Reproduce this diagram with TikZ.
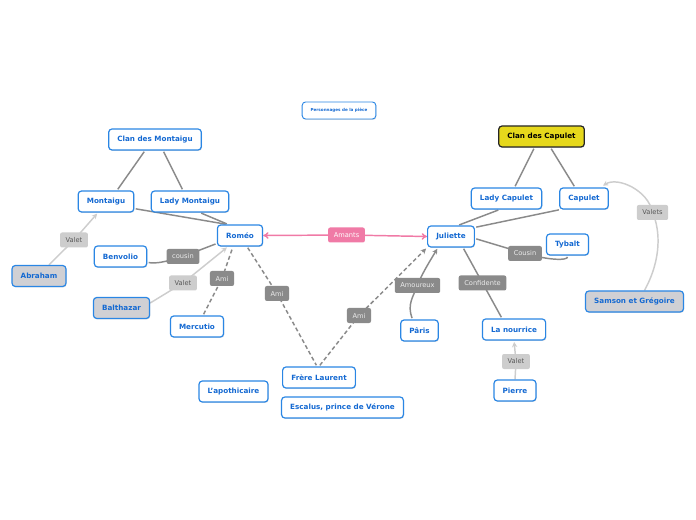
\documentclass[tikz,border=0pt]{standalone}
\usepackage{fontspec}
\setmainfont{DejaVu Sans}
\usetikzlibrary{arrows.meta,calc,backgrounds,shadows}

\definecolor{bleubord}{HTML}{2A86E4}
\definecolor{bleutexte}{HTML}{1469D2}
\definecolor{grisfond}{HTML}{D0D0D4}
\definecolor{jaune}{HTML}{E6D81C}
\definecolor{grislien}{HTML}{8A8A8A}
\definecolor{grisclair}{HTML}{CDCDCD}
\definecolor{rose}{HTML}{F07AA6}

\tikzset{
  perso/.style={draw=bleubord, line width=0.9pt, fill=white, rounded corners=2.5pt,
    text=bleutexte, font=\fontsize{5.4}{6}\selectfont\bfseries,
    minimum height=15.75pt, inner xsep=6.5pt,
    drop shadow={shadow xshift=0.5pt, shadow yshift=-0.7pt, opacity=0.25}},
  serviteur/.style={perso, fill=grisfond},
  clan/.style={perso, fill=jaune, draw=black!85, text=black},
  titre/.style={perso, font=\fontsize{3.1}{4}\selectfont\bfseries,
    minimum height=12.75pt, inner xsep=6.3pt, line width=0.7pt},
  etiq/.style={fill=grislien, text=white!92!black, rounded corners=1.5pt,
    font=\fontsize{5}{6}\selectfont, minimum height=11.25pt, inner xsep=4.2pt},
  etiqclaire/.style={etiq, fill=grisclair, text=black!65},
  etiqrose/.style={etiq, fill=rose, text=white},
  lien/.style={draw=grislien, line width=1.1pt, shorten <=1pt, shorten >=1pt},
  ami/.style={lien, dash pattern=on 3pt off 2pt},
  valet/.style={draw=grisclair, line width=1.1pt, shorten >=1pt,
    -{Stealth[length=4pt,width=4pt]}},
  amants/.style={draw=rose, line width=1.1pt,
    {To[length=4pt,width=5pt]}-{To[length=4pt,width=5pt]}},
}

\begin{document}
\begin{tikzpicture}[x=0.75pt,y=-0.75pt]
  \useasboundingbox (0,0) rectangle (696,520);

  \node[titre] (titre) at (339,110.5) {Personnages de la pièce};

  % Clan Montaigu
  \node[perso] (clanM) at (155,139.5) {Clan des Montaigu};
  \node[perso] (montaigu) at (106,201.5) {Montaigu};
  \node[perso] (ladyM) at (190,201.5) {Lady Montaigu};
  \node[perso] (romeo) at (240,235.5) {Roméo};
  \node[perso] (benvolio) at (120.5,256.5) {Benvolio};
  \node[serviteur] (abraham) at (39,276) {Abraham};
  \node[serviteur] (balthazar) at (121.5,308) {Balthazar};
  \node[perso] (mercutio) at (197,326.5) {Mercutio};

  % Autres personnages
  \node[perso] (laurent) at (319,377.5) {Frère Laurent};
  \node[perso] (apothicaire) at (233.5,391.5) {L'apothicaire};
  \node[perso] (escalus) at (342.5,407.5) {Escalus, prince de Vérone};

  % Clan Capulet
  \node[clan] (clanC) at (541.5,136.5) {Clan des Capulet};
  \node[perso] (ladyC) at (506.5,198.5) {Lady Capulet};
  \node[perso] (capulet) at (584,198.5) {Capulet};
  \node[perso] (juliette) at (451,236.5) {Juliette};
  \node[perso] (tybalt) at (567.5,244.5) {Tybalt};
  \node[perso] (paris) at (419.5,330.5) {Pâris};
  \node[perso] (nourrice) at (514,329.5) {La nourrice};
  \node[perso] (pierre) at (515,390.5) {Pierre};
  \node[serviteur] (samson) at (634.5,301.5) {Samson et Grégoire};

  % Etiquettes des liens
  \node[etiqrose] (lamants) at (346.5,235) {Amants};
  \node[etiqclaire] (lvaletA) at (74,240) {Valet};
  \node[etiq] (lcousinR) at (183,256.5) {cousin};
  \node[etiqclaire] (lvaletB) at (183,283) {Valet};
  \node[etiq] (lamiM) at (222,278.5) {Ami};
  \node[etiq] (lamiR) at (277,293.5) {Ami};
  \node[etiq] (lamiJ) at (359,315.5) {Ami};
  \node[etiq] (lamoureux) at (417.5,285.5) {Amoureux};
  \node[etiq] (lconfidente) at (482.5,283) {Confidente};
  \node[etiq] (lcousinJ) at (525,253.5) {Cousin};
  \node[etiqclaire] (lvalets) at (652.5,212.5) {Valets};
  \node[etiqclaire] (lvaletP) at (516,361.5) {Valet};

  \begin{scope}[on background layer]
    % Famille Montaigu
    \draw[lien] ($(clanM.south)+(-10,0)$) -- ($(montaigu.north)+(11,0)$);
    \draw[lien] ($(clanM.south)+(8,0)$) -- ($(ladyM.north)+(-7,0)$);
    \draw[lien] ($(montaigu.south east)+(0,-4)$) -- ($(romeo.north)+(-13,0)$);
    \draw[lien] ($(ladyM.south)+(10,0)$) -- ($(romeo.north)+(-12,0)$);
    \draw[lien] ($(romeo.west)+(0,8)$) -- (lcousinR.center)
      .. controls +(-20,6) and +(10,1) .. ($(benvolio.east)+(0,6)$);
    \draw[valet] ($(abraham.north)+(10,0)$) -- (lvaletA.center) -- ($(montaigu.south)+(-8,0)$);
    \draw[valet] ($(balthazar.east)+(0,-5)$) -- (lvaletB.center) -- ($(romeo.south)+(-12,0)$);
    \draw[ami] ($(mercutio.north)+(6,0)$) -- (lamiM.center) -- ($(romeo.south)+(-7,0)$);
    % Roméo, Laurent et Juliette
    \draw[ami] ($(romeo.south)+(7,0)$) -- (lamiR.center) -- ($(laurent.north)+(-2,0)$);
    \draw[ami, -{Stealth[length=4pt,width=4pt]}] (laurent.north) -- (lamiJ.center) -- (juliette.south west);
    \draw[amants] (romeo.east) -- (lamants.center) -- (juliette.west);
    % Famille Capulet
    \draw[lien, -{Stealth[length=4pt,width=4pt]}] ($(paris.north)+(-7,0)$)
      .. controls +(-5.5,-15) and +(-4.5,11.5) .. (lamoureux.center)
      .. controls +(3.5,-10.5) and +(-6,10) .. ($(juliette.south)+(-13,0)$);
    \draw[lien] ($(juliette.south)+(12,0)$) -- (lconfidente.center) -- ($(nourrice.north)+(-12,0)$);
    \draw[lien] ($(juliette.east)+(0,2)$) -- (lcousinJ.center)
      .. controls +(25,7) and +(0,5) .. (tybalt.south);
    \draw[lien] ($(ladyC.south)+(-7,0)$) -- ($(juliette.north)+(7,0)$);
    \draw[lien] ($(capulet.south west)+(1,0)$) -- ($(juliette.north east)+(0,2)$);
    \draw[lien] ($(clanC.south)+(-7,0)$) -- ($(ladyC.north)+(8,0)$);
    \draw[lien] ($(clanC.south)+(9,0)$) -- ($(capulet.north)+(-9,0)$);
    \draw[valet] ($(samson.north)+(10,0)$)
      .. controls +(17,-31) and +(8,18) .. (lvalets.center)
      .. controls +(-4,-22) and +(16,-10) .. ($(capulet.north east)+(-7,-1)$);
    \draw[valet] (pierre.north) -- (lvaletP.center) -- (nourrice.south);
  \end{scope}
\end{tikzpicture}
\end{document}
